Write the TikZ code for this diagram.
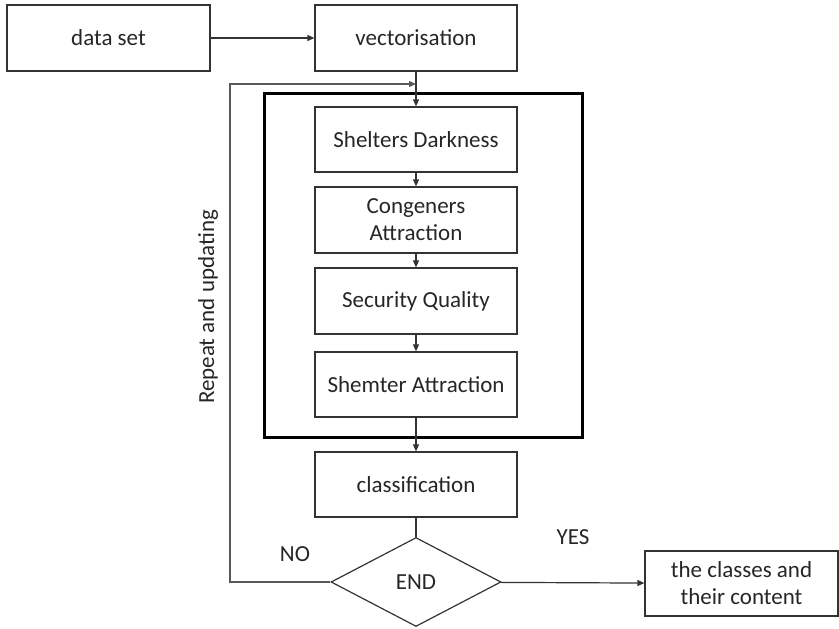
\documentclass[tikz,border=0pt]{standalone}
\usepackage{fontspec}
\setmainfont{Carlito}
\usetikzlibrary{shapes.geometric,arrows.meta}
\begin{document}
\begin{tikzpicture}[x=1pt,y=-1pt,
  every node/.style={font=\fontsize{23}{27}\selectfont, text=black!85},
  box/.style={draw=black!80, line width=1.2pt, rectangle, inner sep=0pt, align=center},
  conn/.style={draw=black!80, line width=1.2pt},
  arr/.style={conn, -{Triangle[length=7pt,width=6pt]}},
  lbl/.style={inner sep=0pt}
]
\useasboundingbox (0,0) rectangle (839,629);
\node[box, minimum width=203pt, minimum height=66pt] (data) at (108.5,38) {data set};
\node[box, minimum width=202pt, minimum height=66pt] (vec) at (416,38) {vectorisation};
\node[draw=black, line width=3pt, rectangle, inner sep=0pt, minimum width=318pt, minimum height=344pt] (frame) at (423.5,265) {};
\node[box, minimum width=202pt, minimum height=65pt] (shel) at (416,139.5) {Shelters Darkness};
\node[box, minimum width=202pt, minimum height=66pt] (cong) at (416,220) {Congeners\\Attraction};
\node[box, minimum width=202pt, minimum height=66pt] (secu) at (416,301) {Security Quality};
\node[box, minimum width=202pt, minimum height=65pt] (shem) at (416,384.5) {Shemter Attraction};
\node[box, minimum width=202pt, minimum height=65pt] (clas) at (416,484.5) {classification};
\node[draw=black!80, line width=1.2pt, diamond, inner sep=0pt, minimum width=170pt, minimum height=89pt] (end) at (416,582) {END};
\node[box, minimum width=193pt, minimum height=65pt] (out) at (741.5,583.5) {the classes and\\their content};
\coordinate (fbl) at (230,582);
\coordinate (fbt) at (230,84);
\coordinate (fbe) at (416,84);
\coordinate (fin) at (416,437);
\draw[arr] (data) -- (vec);
\draw[arr] (vec) -- (shel);
\draw[arr] (shel) -- (cong);
\draw[arr] (cong) -- (secu);
\draw[arr] (secu) -- (shem);
\draw[arr] (shem) -- (clas);
\draw[conn] (clas) -- (end);
\draw[arr] (end) -- (out);
\draw[arr, draw=black!65] (end.west) -- (fbl) -- (fbt) -- (fbe);
\node[lbl, rotate=90] (rep) at (208,307) {Repeat and updating};
\node[lbl] (no) at (295,554) {NO};
\node[lbl] (yes) at (573,537) {YES};
\end{tikzpicture}
\end{document}
